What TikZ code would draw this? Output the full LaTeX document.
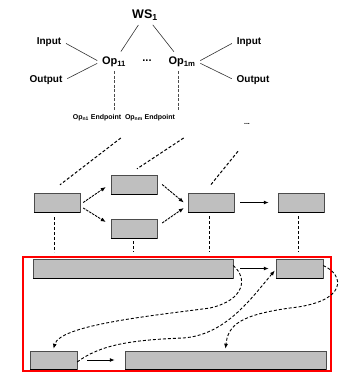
\documentclass[tikz,border=0pt]{standalone}
\usepackage{fontspec}
\setmainfont{Liberation Sans}
\usetikzlibrary{arrows.meta,calc}
\begin{document}
\begin{tikzpicture}[x=1pt,y=-1pt,
  lbl/.style={inner sep=2pt,font=\fontsize{10}{12}\selectfont\bfseries},
  oplbl/.style={inner sep=2pt,font=\fontsize{11}{13}\selectfont\bfseries},
  eplbl/.style={inner sep=1.5pt,font=\fontsize{7}{8}\selectfont\bfseries},
  box/.style={draw=black!70,line width=0.4pt,fill=gray!50,inner sep=0pt,minimum height=19pt,minimum width=46pt},
  thin/.style={draw=black!80,line width=0.6pt},
  vdash/.style={draw=black!70,line width=0.6pt,dash pattern=on 3pt off 1.5pt},
  ddash/.style={draw=black,line width=1pt,dash pattern=on 3pt off 2pt},
  darr/.style={draw=black,line width=0.9pt,dash pattern=on 2.5pt off 1pt,-{Latex[length=5pt,width=4pt]}},
  sarr/.style={draw=black,line width=1pt,-{Latex[length=5pt,width=4pt]}},
  carr/.style={draw=black,line width=0.9pt,dash pattern=on 3pt off 2pt,-{Latex[length=5pt,width=4pt]}}
]
\useasboundingbox (0,0) rectangle (342,373);
% top labels
\node[inner sep=2pt,font=\fontsize{12.5}{14}\selectfont\bfseries] (ws) at (145,15) {WS\textsubscript{1}};
\node[oplbl] (op11) at (114,62) {Op\textsubscript{11}};
\node[oplbl] (dots1) at (147,61) {...};
\node[oplbl] (op1m) at (182,62) {Op\textsubscript{1m}};
\node[lbl] (inL) at (49,42) {Input};
\node[lbl] (outL) at (46,80) {Output};
\node[lbl] (inR) at (249,42) {Input};
\node[lbl] (outR) at (253,80) {Output};
\node[eplbl] (ep1) at (97,118) {Op\textsubscript{n1} Endpoint};
\node[eplbl] (epm) at (150,118) {Op\textsubscript{nm} Endpoint};
\node[eplbl] (dots3) at (247,124) {...};
% top connectors
\draw[thin,shorten <=3pt,shorten >=4pt] (ws) -- (op11);
\draw[thin,shorten <=3pt,shorten >=4pt] (ws) -- (op1m);
\draw[thin,shorten <=3pt,shorten >=3pt] (inL.east) -- (op11.west);
\draw[thin,shorten <=3pt,shorten >=3pt] (outL.east) -- (op11.west);
\draw[thin,shorten <=3pt,shorten >=3pt] (op1m.east) -- (inR.west);
\draw[thin,shorten <=3pt,shorten >=3pt] (op1m.east) -- (outR.west);
\draw[vdash,shorten <=2pt,shorten >=3pt] (op11.south) -- (op11.south |- ep1.north);
\draw[vdash,shorten <=2pt,shorten >=3pt] ([xshift=-4pt]op1m.south) -- ([xshift=-4pt]op1m.south |- epm.north);
% boxes row 1
\node[box] (A) at (57,202.5) {};
\node[box] (B) at (134,184.5) {};
\node[box] (C) at (134,228.5) {};
\node[box] (D) at (211,202.5) {};
\node[box] (E) at (301,202.5) {};
% frame
\node[draw=red,line width=1.6pt,minimum width=308pt,minimum height=114pt,inner sep=0pt] (frame) at (177,314) {};
% boxes in frame
\node[box,minimum width=200pt] (F) at (133,268.5) {};
\node[box,minimum width=47pt] (G) at (299.5,268.5) {};
\node[box,minimum width=47pt,minimum height=18pt] (H) at (53.5,360) {};
\node[box,minimum width=201pt,minimum height=18pt] (I) at (225.5,360) {};
\foreach \b in {A,B,C,D,E,F,G,H,I}
  \draw[line width=1.4pt] (\b.south west) -- (\b.south east);
% endpoint to boxes
\draw[ddash] ([xshift=-2pt,yshift=-15pt]ep1.south east) -- ([xshift=3pt,yshift=8pt]A.north);
\draw[ddash] ([xshift=7pt,yshift=-15pt]epm.south east) -- ([xshift=3pt,yshift=6pt]B.north);
\draw[ddash] ([xshift=-9pt,yshift=-25pt]dots3.south) -- ([xshift=-1pt,yshift=7pt]D.north);
% row 1 arrows
\draw[darr] ([xshift=3pt]A.east) -- ([xshift=-5pt,yshift=-2.5pt]B.west);
\draw[darr] ([xshift=3pt,yshift=-5.5pt]A.east) -- ([xshift=-5pt,yshift=6.5pt]C.west);
\draw[darr] ([xshift=5pt]B.east) -- ([xshift=-4pt]D.west);
\draw[darr] ([xshift=5pt,yshift=5.5pt]C.east) -- ([xshift=-4pt,yshift=-5.5pt]D.west);
\draw[sarr,shorten <=6pt,shorten >=9pt] (D.east) -- (E.west);
% verticals to frame
\draw[ddash,shorten <=5pt,shorten >=4pt] ([xshift=-3pt]A.south) -- ([xshift=-3pt]A.south |- frame.north);
\draw[ddash,line width=0.6pt,shorten <=3pt,shorten >=4pt] ([xshift=-1pt]C.south) -- ([xshift=-1pt]C.south |- frame.north);
\draw[ddash,shorten <=4pt,shorten >=4pt] ([xshift=-2pt]D.south) -- ([xshift=-2pt]D.south |- frame.north);
\draw[ddash,line width=0.7pt,shorten <=4pt,shorten >=4pt] ([xshift=-3pt]E.south) -- ([xshift=-3pt]E.south |- frame.north);
% frame arrows
\draw[sarr,shorten <=7pt,shorten >=7pt] (F.east) -- (G.west);
\draw[sarr,shorten <=10pt,shorten >=10pt] (H.east) -- (I.west);
% curves
\draw[carr] ([yshift=3pt]F.east) .. controls (248,278) and (245,300) .. (210,308)
   .. controls (150,316) and (60,325) .. ([yshift=2pt]H.north);
\draw[carr] ([yshift=-2pt]H.east) .. controls (100,345) and (130,340) .. (183,338)
   .. controls (225,335) and (250,300) .. ([xshift=-1pt,yshift=-2pt]G.west);
\draw[carr] ([yshift=3pt]G.east) .. controls (345,275) and (348,302) .. (290,308)
   .. controls (240,315) and (228,325) .. ([yshift=2pt]I.north);
\end{tikzpicture}
\end{document}
